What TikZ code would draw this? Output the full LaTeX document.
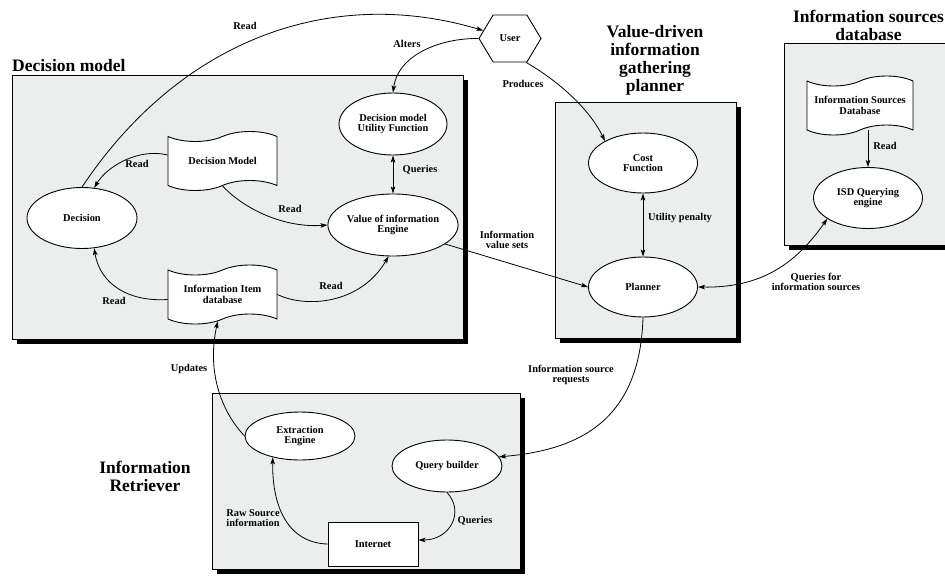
\documentclass[tikz,border=0pt]{standalone}
\usepackage{fontspec}
\setmainfont{Liberation Serif}
\usetikzlibrary{shapes.geometric,shapes.symbols,arrows.meta,calc}
\definecolor{boxgray}{RGB}{236,238,237}
\begin{document}
\begin{tikzpicture}[x=1pt,y=-1pt,
  lbl/.style={font=\bfseries\fontsize{10.4}{10.5}\selectfont, align=center, inner sep=0pt},
  ttl/.style={font=\bfseries\fontsize{17.5}{18}\selectfont, align=center, inner sep=0pt},
  ell/.style={ellipse, draw, fill=white, line width=0.9pt, inner sep=0pt, align=center,
    font=\bfseries\fontsize{10.4}{10.5}\selectfont},
  doc/.style={tape, tape bend top=in and out, tape bend bottom=in and out, tape bend height=10pt,
    draw, fill=white, line width=0.9pt, inner sep=0pt, align=center,
    minimum width=109pt, minimum height=59pt, font=\bfseries\fontsize{10.4}{10.5}\selectfont},
  panel/.style={draw, fill=boxgray, line width=0.9pt, inner sep=0pt},
  shadowbox/.style={fill=black},
  conn/.style={line width=0.8pt, -{Stealth[length=7pt,width=4.5pt,inset=1.5pt]}},
  dconn/.style={line width=0.8pt, {Stealth[length=7pt,width=4.5pt,inset=1.5pt]}-{Stealth[length=7pt,width=4.5pt,inset=1.5pt]}}
]
\clip (0,0) rectangle (945,581);
\fill[white] (0,0) rectangle (945,581);

% panels with shadows
\fill[shadowbox] (17,80) rectangle (468,344);
\node[panel, minimum width=451pt, minimum height=264pt] (pdm) at (237.5,207) {};
\fill[shadowbox] (560,107) rectangle (741,343);
\node[panel, minimum width=181pt, minimum height=236pt] (ppl) at (645.5,220) {};
\fill[shadowbox] (789,48) rectangle (965,250);
\node[panel, minimum width=176pt, minimum height=202pt] (pis) at (872,144) {};
\fill[shadowbox] (217,398) rectangle (525,574);
\node[panel, minimum width=308pt, minimum height=176pt] (pir) at (366,481) {};

% titles
\node[ttl, anchor=west] (tdm) at (12,66) {Decision model};
\node[ttl] (tpl) at (655,60) {Value-driven\\information\\gathering\\planner};
\node[ttl] (tis) at (868.5,25.5) {Information sources\\database};
\node[ttl] (tir) at (145,476.5) {Information\\Retriever};

% nodes
\node[signal, signal to=east and west, signal pointer angle=118, draw, fill=white,
  line width=0.9pt, minimum width=62pt, minimum height=47pt, inner sep=0pt,
  font=\bfseries\fontsize{10.4}{10.5}\selectfont] (user) at (510,38.5) {User};
\node[ell, minimum width=110pt, minimum height=61pt] (dec) at (82,218) {Decision};
\node[ell, minimum width=108pt, minimum height=62pt] (uf) at (393,124) {Decision model\\Utility Function};
\node[ell, minimum width=108pt, minimum height=62pt] (voi) at (393,225) {Value of information\\Engine};
\node[doc] (dm) at (222.5,161) {Decision Model};
\node[doc] (iid) at (222.5,294.5) {Information Item\\database};
\node[ell, minimum width=109pt, minimum height=60pt] (cf) at (643,163) {Cost\\Function};
\node[ell, minimum width=109pt, minimum height=60pt] (pl) at (643,287) {Planner};
\node[doc, minimum width=106pt] (isdb) at (860,105.5) {Information Sources\\Database};
\node[ell, minimum width=109pt, minimum height=61pt] (isd) at (868,198) {ISD Querying\\engine};
\node[ell, minimum width=110pt, minimum height=48pt] (ee) at (300,436) {Extraction\\Engine};
\node[ell, minimum width=110pt, minimum height=52pt] (qb) at (447,466) {Query builder};
\node[draw, fill=white, line width=0.9pt, minimum width=90pt, minimum height=44pt, inner sep=0pt,
  font=\bfseries\fontsize{10.4}{10.5}\selectfont] (inet) at (373,544) {Internet};

% connectors
\draw[conn] (dec.north) .. controls (180,40) and (330,-15) .. (user);
\draw[conn] (user.west) .. controls (440,38) and (398,55) .. (uf.north);
\draw[conn] (user.-56) .. controls (560,82) and (590,110) .. (cf.150);
\draw[dconn] (uf.south) -- (voi.north);
\draw[conn] ($(dm.west)+(0,-6)$) .. controls (140,148) and (108,165) .. (dec.68);
\draw[conn] (dm.south) .. controls (245,210) and (285,228) .. (voi.west);
\draw[conn] ($(iid.west)+(0,5)$) .. controls (130,302) and (100,285) .. (dec.-68);
\draw[conn] (iid.east) .. controls (305,308) and (360,305) .. (voi.-98);
\draw[conn] (voi.-20) -- (pl.west);
\draw[dconn] (cf.south) -- (pl.north);
\draw[dconn] (pl.east) .. controls (760,288) and (795,265) .. (isd.207);
\draw[conn] (isd.north |- isdb.south) -- (isd.north);
\draw[conn] (pl.south) .. controls (640,420) and (580,450) .. (qb.10);
\draw[conn] (ee.west) .. controls (220,410) and (207,370) .. (iid.-100);
\draw[conn] (inet.west) .. controls (290,543) and (272,510) .. (ee.-142);
\draw[conn] (qb.south) .. controls (465,512) and (450,540) .. ($(inet.east)+(0,-4)$);

% labels
\node[lbl] (l1) at (245,26) {Read};
\node[lbl] (l2) at (407,44) {Alters};
\node[lbl] (l3) at (523,84) {Produces};
\node[lbl] (l4) at (137,164) {Read};
\node[lbl] (l5) at (420,170) {Queries};
\node[lbl] (l6) at (290,209) {Read};
\node[lbl] (l7) at (114,301) {Read};
\node[lbl] (l8) at (331,286) {Read};
\node[lbl] (l9) at (507,240) {Information\\value sets};
\node[lbl] (l10) at (680,218) {Utility penalty};
\node[lbl] (l11) at (885,146) {Read};
\node[lbl] (l12) at (816,282) {Queries for\\information sources};
\node[lbl] (l13) at (571,375) {Information source\\requests};
\node[lbl] (l14) at (189,369) {Updates};
\node[lbl] (l15) at (253,518) {Raw Source\\information};
\node[lbl] (l16) at (475,521) {Queries};
\end{tikzpicture}
\end{document}
